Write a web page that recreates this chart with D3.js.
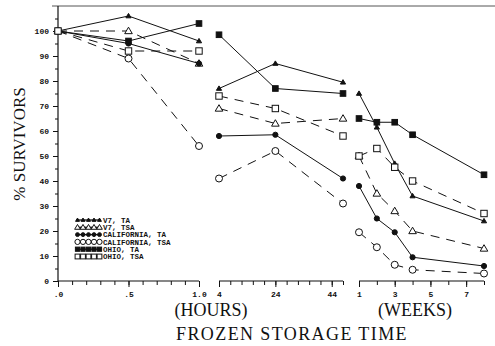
<!DOCTYPE html>
<html><head><meta charset="utf-8">
<script src="https://cdn.jsdelivr.net/npm/d3@7"></script>
<style>body{margin:0;background:#fff}svg{display:block}</style>
</head><body>
<svg id="c" width="495" height="346"></svg>
<script>
// ---- data ----
const hoursA = [0, 0.5, 1.0];
const hoursB = [4, 24, 48];
const weeks = [1, 2, 3, 4, 8];
const seriesNames = ["V7, TA", "V7, TSA", "CALIFORNIA, TA", "CALIFORNIA, TSA", "OHIO, TA", "OHIO, TSA"];
const v7TA   = {a: [100, 106, 96],  b: [77, 87, 79.5], c: [75, 61.5, 47, 34, 24]};
const v7TSA  = {a: [100, 100, 87],  b: [69, 63, 65],   c: [50, 35, 28, 20, 13]};
const calTA  = {a: [100, 95, 87],   b: [58, 58.5, 41], c: [38, 25, 19.5, 9.5, 6]};
const calTSA = {a: [100, 89, 54],   b: [41, 52, 31],   c: [19.5, 13.5, 6.5, 4.5, 3]};
const ohTA   = {a: [100, 96, 103],  b: [98.5, 77, 75], c: [65, 63.5, 63.5, 58.5, 42.5]};
const ohTSA  = {a: [100, 92, 92],   b: [74, 69, 58],   c: [50, 53, 45.5, 40, 27]};
const yTicks = [0, 10, 20, 30, 40, 50, 60, 70, 80, 90, 100];
const xTicksA = [0, 0.5, 1.0], xLabelsA = [".0", ".5", "1.0"];
const xTicksB = [4, 24, 44], xLabelsB = ["4", "24", "44"];
const xTicksC = [1, 3, 5, 7], xLabelsC = ["1", "3", "5", "7"];

const series = [
  {name: seriesNames[0], d: v7TA,   sym: "triS", fill: true,  dash: null},
  {name: seriesNames[1], d: v7TSA,  sym: "tri",  fill: false, dash: "9,7"},
  {name: seriesNames[2], d: calTA,  sym: "circ", fill: true,  dash: null},
  {name: seriesNames[3], d: calTSA, sym: "circ", fill: false, dash: "9,7"},
  {name: seriesNames[4], d: ohTA,   sym: "sq",   fill: true,  dash: null},
  {name: seriesNames[5], d: ohTSA,  sym: "sq",   fill: false, dash: "9,7"}
];

const svg = d3.select("#c");
const ink = "#111";
const y = d3.scaleLinear().domain([0, 100]).range([281, 31]);
const xA = d3.scaleLinear().domain([0, 1]).range([58, 199]);
const xB = d3.scaleLinear().domain([4, 48]).range([219, 343]);
const xC = d3.scaleLinear().domain([1, 8]).range([359, 484]);

// frame top + y axis
svg.append("line").attr("x1", 52).attr("x2", 495).attr("y1", 6).attr("y2", 6)
  .attr("stroke", "#555").attr("stroke-width", 1);
svg.append("line").attr("x1", 58).attr("x2", 58).attr("y1", 6).attr("y2", y(0))
  .attr("stroke", ink).attr("stroke-width", 1.2);
const yAxis = d3.axisLeft(y).tickValues(yTicks).tickSize(5).tickPadding(4).tickFormat(d3.format("d"));
const gy = svg.append("g").attr("transform", "translate(58,0)").call(yAxis);
gy.select(".domain").remove();
gy.selectAll("line").attr("stroke", ink);
gy.selectAll("text").attr("font-family", "Liberation Mono").attr("font-weight", "bold")
  .attr("font-size", 8).attr("fill", ink);
const yMinor = d3.axisLeft(y).tickValues(d3.range(5, 110, 10)).tickSize(3).tickFormat("");
const gym = svg.append("g").attr("transform", "translate(58,0)").call(yMinor);
gym.select(".domain").remove();
gym.selectAll("line").attr("stroke", ink);

// x axes
function xAxis(sc, major, labels, minorStep) {
  const [d0, d1] = sc.domain();
  const g = svg.append("g").attr("transform", `translate(0,${y(0)})`);
  g.append("line").attr("x1", sc.range()[0]).attr("x2", sc.range()[1]).attr("y1", 0).attr("y2", 0)
    .attr("stroke", ink).attr("stroke-width", 1.2);
  const minor = d3.range(d0, d1 + 1e-9, minorStep);
  const ax = d3.axisBottom(sc).tickValues(minor).tickSize(4).tickFormat("");
  const gm = g.append("g").call(ax);
  gm.select(".domain").remove();
  gm.selectAll("line").attr("stroke", ink);
  const axM = d3.axisBottom(sc).tickValues(major).tickSize(6).tickPadding(4)
    .tickFormat((d, i) => labels[i]);
  const gM = g.append("g").call(axM);
  gM.select(".domain").remove();
  gM.selectAll("line").attr("stroke", ink);
  gM.selectAll("text").attr("font-family", "Liberation Mono").attr("font-weight", "bold")
    .attr("font-size", 8).attr("fill", ink);
}
xAxis(xA, xTicksA, xLabelsA, 0.1);
xAxis(xB, xTicksB, xLabelsB, 4);
xAxis(xC, xTicksC, xLabelsC, 1);

// markers
function marker(g, sym, fill, cx, cy, scale) {
  const s = scale || 1;
  let el;
  if (sym === "triS") {
    const r = 2.6 * s;
    el = g.append("path").attr("d", `M${cx},${cy - r}L${cx + r},${cy + r * 0.7}L${cx - r},${cy + r * 0.7}Z`);
  } else if (sym === "tri") {
    const r = 3.8 * s;
    el = g.append("path").attr("d", `M${cx},${cy - r}L${cx + r},${cy + r * 0.7}L${cx - r},${cy + r * 0.7}Z`);
  } else if (sym === "circ") {
    el = g.append("circle").attr("cx", cx).attr("cy", cy).attr("r", (fill ? 2.6 : 3.5) * s);
  } else {
    const h = (fill ? 2.8 : 3.2) * s;
    el = g.append("rect").attr("x", cx - h).attr("y", cy - h).attr("width", 2 * h).attr("height", 2 * h);
  }
  el.attr("fill", fill ? ink : "#fff").attr("stroke", ink).attr("stroke-width", 1);
}

const panels = [
  {x: xA, xs: hoursA, key: "a"},
  {x: xB, xs: hoursB, key: "b"},
  {x: xC, xs: weeks, key: "c"}
];
const line = d3.line();
series.forEach(s => {
  panels.forEach(p => {
    const pts = p.xs.map((xv, i) => [p.x(xv), y(s.d[p.key][i])]);
    svg.append("path").attr("d", line(pts)).attr("fill", "none").attr("stroke", ink)
      .attr("stroke-width", 1).attr("stroke-dasharray", s.dash);
  });
});
series.forEach(s => {
  panels.forEach(p => {
    const g = svg.append("g");
    p.xs.forEach((xv, i) => marker(g, s.sym, s.fill, p.x(xv), y(s.d[p.key][i])));
  });
});

// legend
const lg = svg.append("g");
series.forEach((s, i) => {
  const yy = 220 + i * 7.3;
  lg.append("line").attr("x1", 76).attr("x2", 101).attr("y1", yy).attr("y2", yy)
    .attr("stroke", ink).attr("stroke-width", 1.3);
  for (let k = 0; k < 5; k++) marker(lg, s.sym, s.fill, 77.5 + k * 5.5, yy, 0.75);
  lg.append("text").attr("x", 103).attr("y", yy + 2.8).text(s.name)
    .attr("font-family", "Liberation Mono").attr("font-weight", "bold")
    .attr("font-size", 7.5).attr("fill", ink);
});

// titles
svg.append("text").attr("transform", "translate(25,144) rotate(-90)").attr("text-anchor", "middle")
  .attr("font-family", "Liberation Serif").attr("font-size", 17).attr("fill", ink).text("% SURVIVORS");
svg.append("text").attr("x", 211).attr("y", 316).attr("text-anchor", "middle")
  .attr("font-family", "Liberation Serif").attr("font-size", 18).attr("fill", ink).text("(HOURS)");
svg.append("text").attr("x", 415).attr("y", 316).attr("text-anchor", "middle")
  .attr("font-family", "Liberation Serif").attr("font-size", 18).attr("fill", ink).text("(WEEKS)");
svg.append("text").attr("x", 292).attr("y", 340).attr("text-anchor", "middle")
  .attr("font-family", "Liberation Serif").attr("font-size", 18).attr("letter-spacing", 1.4)
  .attr("fill", ink).text("FROZEN STORAGE TIME");
</script>
</body></html>
